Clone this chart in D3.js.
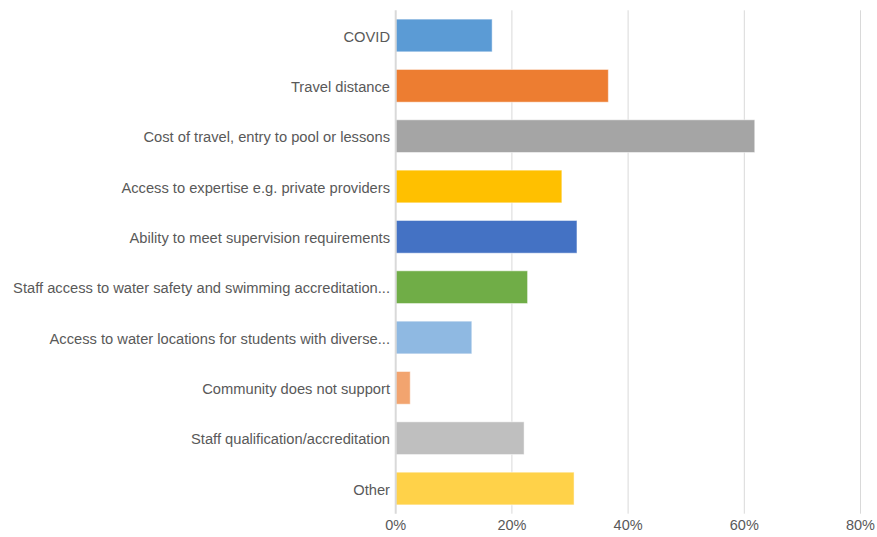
<!DOCTYPE html>
<html>
<head>
<meta charset="utf-8">
<script src="https://cdn.jsdelivr.net/npm/d3@7"></script>
<style>
  body { margin: 0; background: #fff; }
  svg { display: block; font-family: "Liberation Sans", Arial, sans-serif; }
</style>
</head>
<body>
<svg id="chart" width="877" height="537"></svg>
<script>
// Barriers to water-safety programs (share of respondents)
const categories = [
  "COVID",
  "Travel distance",
  "Cost of travel, entry to pool or lessons",
  "Access to expertise e.g. private providers",
  "Ability to meet supervision requirements",
  "Staff access to water safety and swimming accreditation...",
  "Access to water locations for students with diverse...",
  "Community does not support",
  "Staff qualification/accreditation",
  "Other"
];
const values = [16.6, 36.6, 61.8, 28.6, 31.2, 22.7, 13.1, 2.5, 22.1, 30.7];
const colors = ["#5B9BD5", "#ED7D31", "#A5A5A5", "#FFC000", "#4472C4",
                "#70AD47", "#8FB9E2", "#F2A46F", "#BFBFBF", "#FFD249"];
const tickValues = [0, 20, 40, 60, 80];

const svg = d3.select("#chart");
const x0 = 395.7, x1 = 860.5, yTop = 10.3, yBot = 513.7;

const x = d3.scaleLinear().domain([0, 80]).range([x0, x1]);
const y = d3.scaleBand().domain(categories).range([yTop, yBot]).paddingInner(0.35).paddingOuter(0.175);

// vertical gridlines
svg.append("g").selectAll("line").data(tickValues.slice(1)).join("line")
  .attr("x1", d => x(d)).attr("x2", d => x(d))
  .attr("y1", yTop).attr("y2", yBot)
  .attr("stroke", "#d9d9d9").attr("stroke-width", 1);

// bars
svg.append("g").selectAll("rect").data(values).join("rect")
  .attr("x", x(0))
  .attr("y", (d, i) => y(categories[i]))
  .attr("width", d => x(d) - x(0))
  .attr("height", y.bandwidth())
  .attr("fill", (d, i) => colors[i])
  .attr("stroke", "#ffffff").attr("stroke-opacity", 0.5).attr("stroke-width", 1);

// category axis baseline
svg.append("line")
  .attr("x1", x(0)).attr("x2", x(0))
  .attr("y1", yTop).attr("y2", yBot)
  .attr("stroke", "#d9d9d9").attr("stroke-width", 2);

// category labels
svg.append("g").selectAll("text").data(categories).join("text")
  .attr("x", 390)
  .attr("y", d => y(d) + y.bandwidth() / 2 + 1)
  .attr("dy", "0.35em")
  .attr("text-anchor", "end")
  .attr("fill", "#595959")
  .attr("font-size", 14.7)
  .text(d => d);

// value axis tick labels
svg.append("g").selectAll("text").data(tickValues).join("text")
  .attr("x", d => x(d))
  .attr("y", 530)
  .attr("text-anchor", "middle")
  .attr("fill", "#595959")
  .attr("font-size", 14.5)
  .text(d => d + "%");
</script>
</body>
</html>
